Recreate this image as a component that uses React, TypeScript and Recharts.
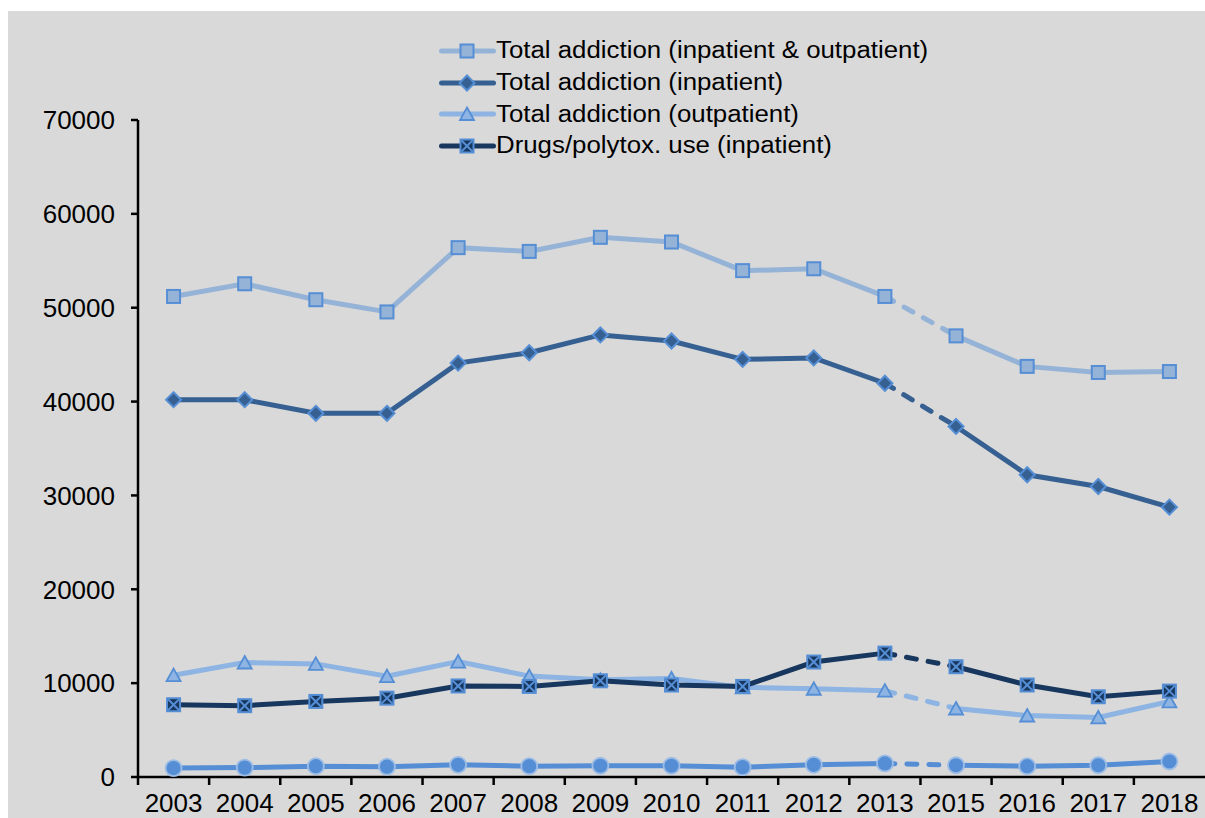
import { LineChart, Line, XAxis, YAxis, Legend } from 'recharts';

// Survey years (2014 has no data point)
const years = ['2003', '2004', '2005', '2006', '2007', '2008', '2009', '2010', '2011', '2012', '2013', '2015', '2016', '2017', '2018'];

const totalBoth = [51200, 52550, 50850, 49550, 56400, 56000, 57500, 57000, 53950, 54150, 51200, 47000, 43750, 43100, 43200];
const totalInpatient = [40200, 40200, 38750, 38750, 44100, 45200, 47100, 46450, 44500, 44650, 41950, 37350, 32200, 30950, 28750];
const totalOutpatient = [10850, 12200, 12050, 10750, 12300, 10750, 10350, 10500, 9550, 9400, 9200, 7300, 6550, 6350, 8050];
const drugsInpatient = [7700, 7600, 8050, 8400, 9700, 9650, 10250, 9800, 9650, 12250, 13200, 11750, 9800, 8550, 9150];
const minorSeries = [950, 1000, 1150, 1100, 1300, 1150, 1200, 1200, 1050, 1300, 1450, 1250, 1150, 1250, 1650];

const yTicks = [0, 10000, 20000, 30000, 40000, 50000, 60000, 70000];

// the step from 2013 to 2015 skips a year and is drawn dashed
const gapStart = years.indexOf('2013');

const FONT = '"Liberation Sans", Arial, sans-serif';
const X_TICK_SIZE = 8;
const X_TICK_MARGIN = 9;

type MarkerKind = 'square' | 'diamond' | 'triangle' | 'cross' | 'circle';

interface SeriesDef {
    key: string;
    name: string | null;
    values: number[];
    line: string;
    fill: string;
    edge: string;
    marker: MarkerKind;
}

const series: SeriesDef[] = [
    { key: 'both', name: 'Total addiction (inpatient & outpatient)', values: totalBoth, line: '#95b3d7', fill: '#95b3d7', edge: '#558ed5', marker: 'square' },
    { key: 'inp', name: 'Total addiction (inpatient)', values: totalInpatient, line: '#366092', fill: '#366092', edge: '#558ed5', marker: 'diamond' },
    { key: 'outp', name: 'Total addiction (outpatient)', values: totalOutpatient, line: '#8db4e2', fill: '#8db4e2', edge: '#558ed5', marker: 'triangle' },
    { key: 'drugs', name: 'Drugs/polytox. use (inpatient)', values: drugsInpatient, line: '#17375e', fill: '#17375e', edge: '#558ed5', marker: 'cross' },
    { key: 'minor', name: null, values: minorSeries, line: '#558ed5', fill: '#558ed5', edge: '#9dbde6', marker: 'circle' },
];

const data = years.map((year, i) => {
    const row: Record<string, string | number | null> = { year };
    series.forEach((s) => {
        const v = s.values[i];
        row[`${s.key}_a`] = i <= gapStart ? v : null;
        row[`${s.key}_gap`] = i === gapStart || i === gapStart + 1 ? v : null;
        row[`${s.key}_b`] = i > gapStart ? v : null;
    });
    return row;
});

function Marker({ kind, cx, cy, fill, edge }: { kind: MarkerKind; cx: number; cy: number; fill: string; edge: string }) {
    switch (kind) {
        case 'square':
            return <rect x={cx - 6.5} y={cy - 6.5} width={13} height={13} fill={fill} stroke={edge} strokeWidth={2} />;
        case 'diamond':
            return <polygon points={`${cx},${cy - 7.5} ${cx + 7.5},${cy} ${cx},${cy + 7.5} ${cx - 7.5},${cy}`} fill={fill} stroke={edge} strokeWidth={2} />;
        case 'triangle':
            return <polygon points={`${cx},${cy - 6.5} ${cx + 7},${cy + 6} ${cx - 7},${cy + 6}`} fill={fill} stroke={edge} strokeWidth={1.8} strokeLinejoin="miter" />;
        case 'cross':
            return (
                <g>
                    <rect x={cx - 6.5} y={cy - 6.5} width={13} height={13} fill={fill} stroke={edge} strokeWidth={2} />
                    <line x1={cx - 5.5} y1={cy - 5.5} x2={cx + 5.5} y2={cy + 5.5} stroke={edge} strokeWidth={2} />
                    <line x1={cx - 5.5} y1={cy + 5.5} x2={cx + 5.5} y2={cy - 5.5} stroke={edge} strokeWidth={2} />
                </g>
            );
        default:
            return <circle cx={cx} cy={cy} r={8} fill={fill} stroke={edge} strokeWidth={1.8} />;
    }
}

const dotFor = (s: SeriesDef) => (props: any) => {
    const { cx, cy, value, index } = props;
    if (value == null || cx == null || cy == null) return <g key={`${s.key}-${index}`} />;
    return (
        <g key={`${s.key}-${index}`}>
            <Marker kind={s.marker} cx={cx} cy={cy} fill={s.fill} edge={s.edge} />
        </g>
    );
};

// year label at the band centre, tick mark on the band's left edge
function YearTick({ x, y, payload }: any) {
    const half = payload?.offset ?? 0;
    const axisY = y - X_TICK_SIZE - X_TICK_MARGIN;
    return (
        <g>
            <line x1={x - half} x2={x - half} y1={axisY} y2={axisY + X_TICK_SIZE} stroke="#000" strokeWidth={2.5} />
            <text x={x} y={y} dy="0.71em" textAnchor="middle" fontSize={26} fontFamily={FONT} fill="#000">
                {payload.value}
            </text>
        </g>
    );
}

function SeriesLegend() {
    return (
        <div style={{ fontFamily: FONT }}>
            {series
                .filter((s) => s.name)
                .map((s) => (
                    <div key={s.key} style={{ display: 'flex', alignItems: 'center', height: 31.7 }}>
                        <svg width={57} height={20} style={{ display: 'block' }}>
                            <line x1={2.5} x2={54.5} y1={10} y2={10} stroke={s.line} strokeWidth={5} strokeLinecap="round" />
                            <Marker kind={s.marker} cx={28} cy={10} fill={s.fill} edge={s.edge} />
                        </svg>
                        <span
                            style={{
                                fontSize: 23,
                                color: '#000',
                                whiteSpace: 'nowrap',
                                display: 'inline-block',
                                transform: 'scaleX(1.123)',
                                transformOrigin: 'left center',
                            }}
                        >
                            {s.name}
                        </span>
                    </div>
                ))}
        </div>
    );
}

export default function App() {
    return (
        <div style={{ position: 'absolute', left: 8, top: 11, width: 1197, height: 807, background: '#d9d9d9', fontFamily: FONT }}>
            <LineChart width={1197} height={807} data={data} margin={{ top: 109, right: 0, bottom: 0, left: 0 }}>
                <XAxis
                    dataKey="year"
                    scale="band"
                    height={41}
                    interval={0}
                    tickSize={X_TICK_SIZE}
                    tickMargin={X_TICK_MARGIN}
                    tickLine={false}
                    axisLine={{ stroke: '#000', strokeWidth: 2.5 }}
                    tick={(props: any) => <YearTick {...props} />}
                />
                <YAxis
                    domain={[0, 70000]}
                    ticks={yTicks}
                    interval={0}
                    width={130}
                    tickSize={7}
                    tickMargin={16}
                    axisLine={{ stroke: '#000', strokeWidth: 2.5 }}
                    tickLine={{ stroke: '#000', strokeWidth: 2.5 }}
                    tick={{ fill: '#000', fontSize: 26, fontFamily: FONT }}
                />
                <Legend
                    layout="vertical"
                    align="center"
                    verticalAlign="middle"
                    content={() => <SeriesLegend />}
                    wrapperStyle={{ left: 431, top: 24, width: 'auto' }}
                />
                {series.flatMap((s) => [
                    <Line
                        key={`${s.key}_gap`}
                        dataKey={`${s.key}_gap`}
                        type="linear"
                        stroke={s.line}
                        strokeWidth={5}
                        strokeDasharray="10 12"
                        strokeLinecap="round"
                        dot={false}
                        activeDot={false}
                        legendType="none"
                        isAnimationActive={false}
                    />,
                    <Line
                        key={`${s.key}_a`}
                        dataKey={`${s.key}_a`}
                        type="linear"
                        stroke={s.line}
                        strokeWidth={5}
                        dot={dotFor(s)}
                        activeDot={false}
                        legendType="none"
                        isAnimationActive={false}
                    />,
                    <Line
                        key={`${s.key}_b`}
                        dataKey={`${s.key}_b`}
                        type="linear"
                        stroke={s.line}
                        strokeWidth={5}
                        dot={dotFor(s)}
                        activeDot={false}
                        legendType="none"
                        isAnimationActive={false}
                    />,
                ])}
            </LineChart>
        </div>
    );
}
